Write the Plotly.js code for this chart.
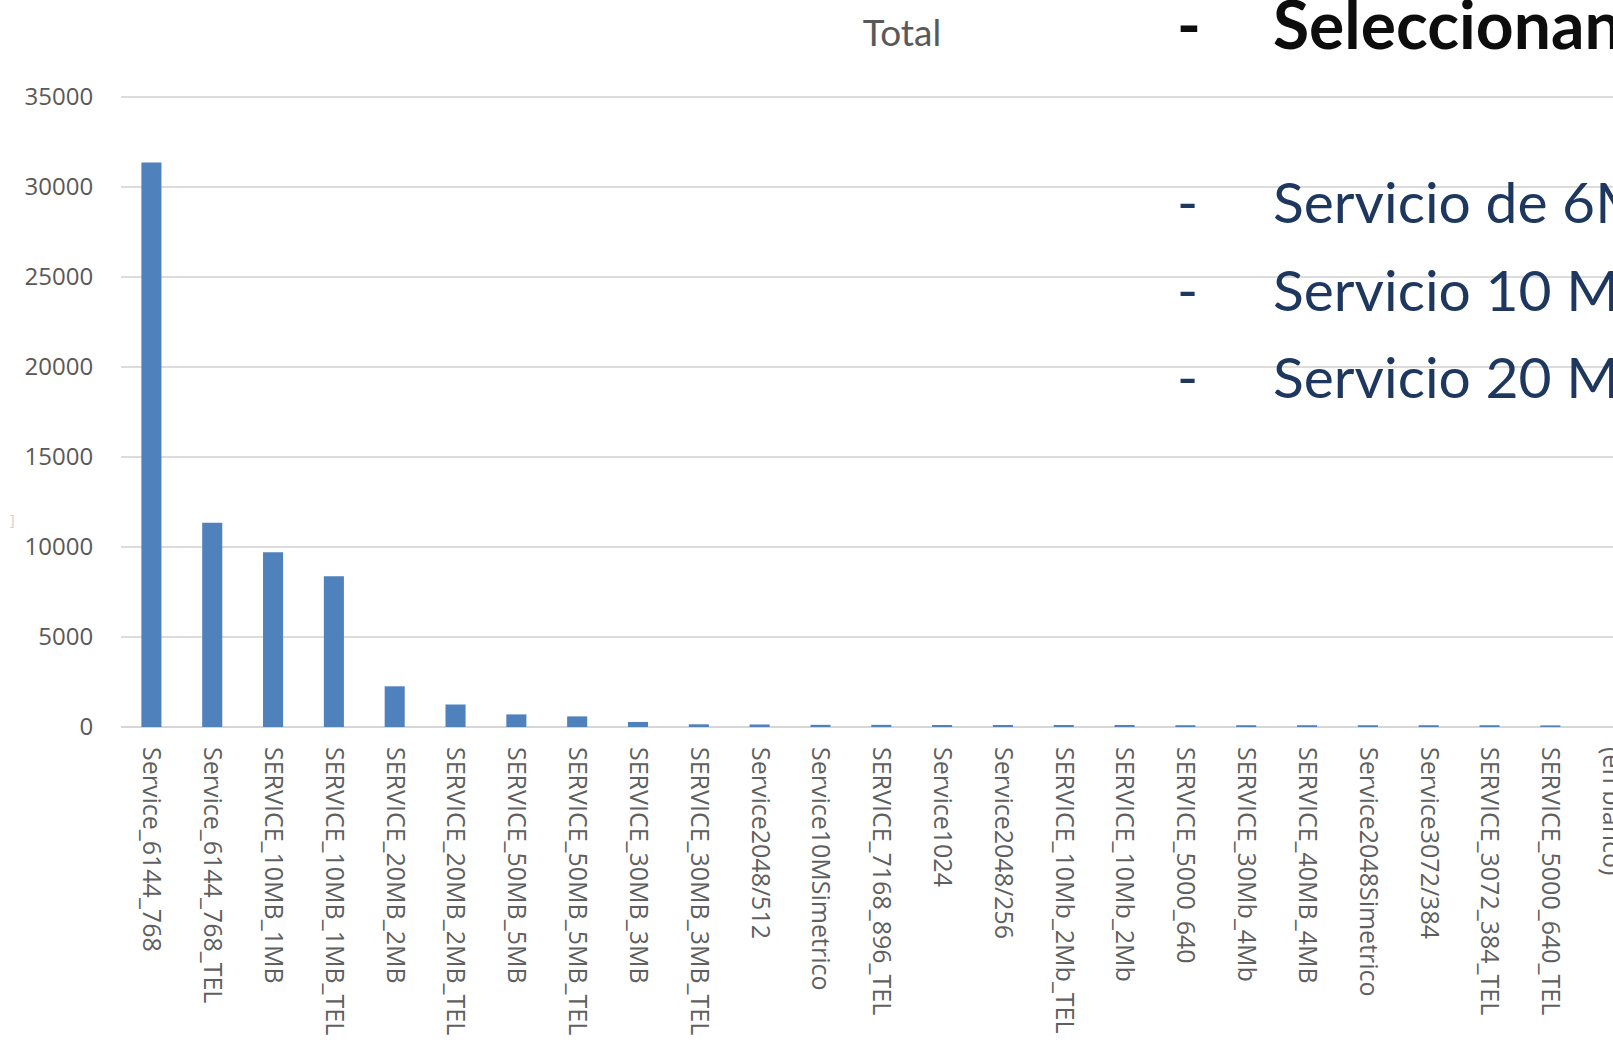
<!DOCTYPE html>
<html>
<head>
<meta charset="utf-8">
<script src="https://cdn.plot.ly/plotly-3.0.1.min.js"></script>
<style>
html,body{margin:0;padding:0;background:#fff;overflow:hidden;}
#chart{width:1613px;height:1048px;}
</style>
</head>
<body>
<div id="chart"></div>
<script>
// ---- data ----
const categories = [
  "Service_6144_768","Service_6144_768_TEL","SERVICE_10MB_1MB","SERVICE_10MB_1MB_TEL",
  "SERVICE_20MB_2MB","SERVICE_20MB_2MB_TEL","SERVICE_50MB_5MB","SERVICE_50MB_5MB_TEL",
  "SERVICE_30MB_3MB","SERVICE_30MB_3MB_TEL","Service2048/512","Service10MSimetrico",
  "SERVICE_7168_896_TEL","Service1024","Service2048/256","SERVICE_10Mb_2Mb_TEL",
  "SERVICE_10Mb_2Mb","SERVICE_5000_640","SERVICE_30Mb_4Mb","SERVICE_40MB_4MB",
  "Service2048Simetrico","Service3072/384","SERVICE_3072_384_TEL","SERVICE_5000_640_TEL",
  "(en blanco)"
];
const totals = [
  31350, 11350, 9700, 8370,
  2260, 1250, 700, 590,
  280, 150, 140, 120,
  120, 110, 110, 110,
  110, 100, 100, 100,
  100, 100, 100, 90,
  0
];
const yTickValues = [0, 5000, 10000, 15000, 20000, 25000, 30000, 35000];
const chartTitle = "Total";
const slideLines = ["Seleccionan", "Servicio de 6M", "Servicio 10 M", "Servicio 20 M"];

// ---- layout geometry ----
const W = 1613, H = 1048;
const ml = 120.8, mr = 0, mt = 94.9, mb = 320.5;
const pw = W - ml - mr, ph = H - mt - mb;
const fx = px => (px - ml) / pw;
const fy = py => (H - mb - py) / ph;

const navy = "#1d375f";
const dashX = 1175;
const textX = 1271;
const annotations = [
  {text: "-", x: fx(dashX), y: fy(23), xanchor: "left", yanchor: "middle",
   font: {family: "Lato", size: 64, color: "#0d0d0d", weight: "bold"}},
  {text: slideLines[0], x: fx(textX), y: fy(23), xanchor: "left", yanchor: "middle",
   font: {family: "Lato", size: 66, color: "#0d0d0d", weight: "bold"}},
  {text: "-", x: fx(dashX), y: fy(201), xanchor: "left", yanchor: "middle",
   font: {family: "Lato", size: 57, color: navy}},
  {text: slideLines[1], x: fx(textX), y: fy(201), xanchor: "left", yanchor: "middle",
   font: {family: "Lato", size: 57, color: navy}},
  {text: "-", x: fx(dashX), y: fy(289), xanchor: "left", yanchor: "middle",
   font: {family: "Lato", size: 57, color: navy}},
  {text: slideLines[2], x: fx(textX), y: fy(289), xanchor: "left", yanchor: "middle",
   font: {family: "Lato", size: 57, color: navy}},
  {text: "-", x: fx(dashX), y: fy(376), xanchor: "left", yanchor: "middle",
   font: {family: "Lato", size: 57, color: navy}},
  {text: slideLines[3], x: fx(textX), y: fy(376), xanchor: "left", yanchor: "middle",
   font: {family: "Lato", size: 57, color: navy}},
  {text: "]", x: fx(8), y: fy(520), xanchor: "left", yanchor: "middle",
   font: {family: "Open Sans", size: 14, color: "#cfcfcf"}}
].map(a => Object.assign({xref: "paper", yref: "paper", showarrow: false}, a));

const trace = {
  type: "bar",
  x: categories,
  y: totals,
  marker: {color: "#4f81bd"},
  hoverinfo: "x+y"
};

const layout = {
  width: W, height: H,
  margin: {l: ml, r: mr, t: mt, b: mb, pad: 0},
  paper_bgcolor: "#ffffff",
  plot_bgcolor: "#ffffff",
  showlegend: false,
  bargap: 0.67,
  title: {
    text: chartTitle,
    xref: "container", yref: "container",
    x: 902 / W, xanchor: "center",
    y: 1 - 33 / H, yanchor: "middle",
    font: {family: "Lato", size: 37, color: "#595959"}
  },
  xaxis: {
    type: "category",
    range: [-0.5, 24.03],
    tickangle: 90,
    ticks: "outside", ticklen: 14, tickcolor: "rgba(0,0,0,0)",
    tickfont: {family: "Open Sans", size: 25, color: "#5f5f5f"},
    showgrid: false, showline: false, zeroline: false,
    fixedrange: true
  },
  yaxis: {
    range: [0, 35100],
    tickmode: "array",
    tickvals: yTickValues,
    ticktext: yTickValues.map(String),
    ticks: "outside", ticklen: 22, tickcolor: "rgba(0,0,0,0)",
    tickfont: {family: "Open Sans", size: 24, color: "#595959"},
    showgrid: true, gridcolor: "#dcdcdc", gridwidth: 2,
    zeroline: true, zerolinecolor: "#d6d6d6", zerolinewidth: 2,
    showline: false,
    fixedrange: true
  },
  annotations: annotations
};

Plotly.newPlot("chart", [trace], layout, {displayModeBar: false, staticPlot: true});
</script>
</body>
</html>
